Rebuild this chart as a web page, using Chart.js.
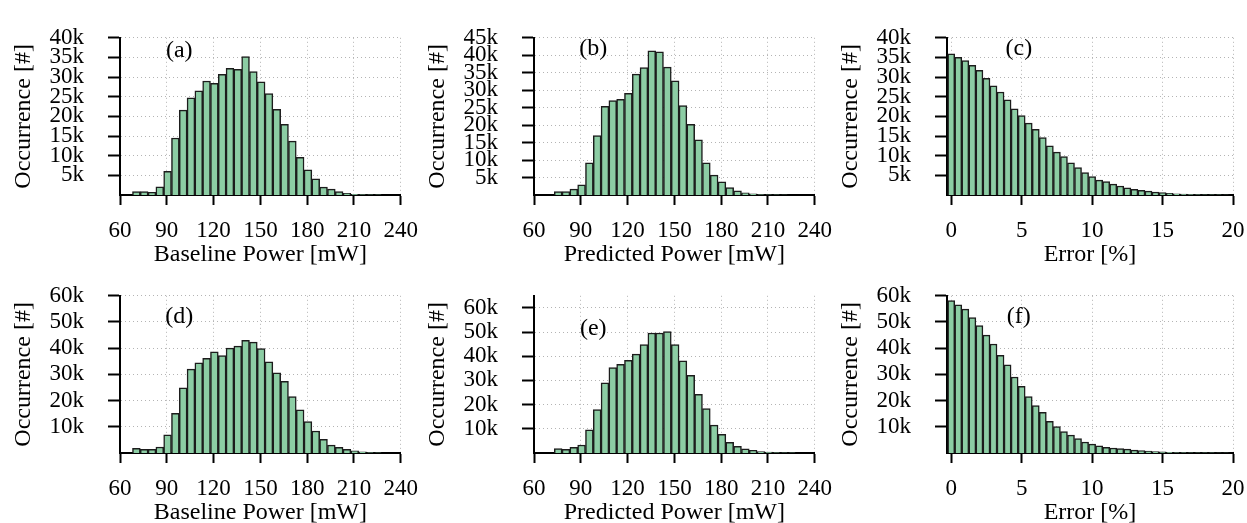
<!DOCTYPE html>
<html>
<head>
<meta charset="utf-8">
<title>Power histograms</title>
<script src="https://cdn.jsdelivr.net/npm/chart.js@4.4.0/dist/chart.umd.min.js"></script>
<style>
  html, body { margin: 0; padding: 0; background: #fff; overflow: hidden; }
  #wrap { position: relative; width: 1247px; height: 523px; overflow: hidden; }
  #wrap canvas { position: absolute; }
</style>
</head>
<body>
<div id="wrap"></div>
<script>
// bin centres: 5 mW bins for power, 0.5 % bins for error
const powerBins = [70.5, 75.5, 80.5, 85.5, 90.5, 95.5, 100.5, 105.5, 110.5, 115.5, 120.5, 125.5,
    130.5, 135.5, 140.5, 145.5, 150.5, 155.5, 160.5, 165.5, 170.5, 175.5, 180.5, 185.5,
    190.5, 195.5, 200.5, 205.5, 210.5, 215.5, 220.5, 225.5];
const errorBins = [0, 0.5, 1, 1.5, 2, 2.5, 3, 3.5, 4, 4.5, 5, 5.5, 6, 6.5, 7, 7.5, 8, 8.5, 9, 9.5,
    10, 10.5, 11, 11.5, 12, 12.5, 13, 13.5, 14, 14.5, 15, 15.5, 16, 16.5, 17, 17.5, 18, 18.5, 19, 19.5];

// occurrences in thousands
const baselineTop = [0.9, 0.85, 0.7, 2.1, 6.0, 14.5, 21.6, 24.7, 26.5, 29.0, 28.4, 30.7,
    32.2, 32.0, 35.2, 31.4, 28.8, 25.8, 21.8, 18.0, 13.7, 9.6, 6.4, 4.1,
    2.0, 1.5, 0.85, 0.45, 0.2, 0.1, 0.05, 0.03];
const predictedTop = [null, 0.95, 0.95, 1.7, 2.9, 9.2, 17.0, 25.4, 27.0, 27.4, 29.1, 34.6,
    36.5, 41.3, 41.0, 36.6, 32.7, 25.6, 20.2, 15.8, 9.2, 5.7, 3.8, 2.1,
    1.2, 0.6, 0.35, 0.15, 0.08, 0.04, 0.02, null];
const errorTop = [35.9, 35.0, 34.2, 33.0, 31.7, 29.7, 27.8, 26.2, 24.2, 21.9, 20.2, 18.3, 16.7, 14.6,
    12.5, 10.9, 9.8, 8.2, 7.0, 5.7, 4.7, 3.8, 3.4, 2.75, 2.3, 1.85, 1.45, 1.2, 1.0, 0.75,
    0.6, 0.45, 0.3, 0.22, 0.15, 0.1, 0.05, 0.04, 0.03, 0.02];

const baselineBottom = [1.8, 1.4, 1.4, 2.3, 6.9, 15.1, 24.9, 32.0, 34.4, 36.1, 38.6, 37.2,
    40.0, 40.8, 43.0, 42.3, 39.9, 34.8, 30.6, 27.4, 21.5, 16.5, 12.0, 8.4,
    5.2, 3.0, 2.2, 1.4, 0.8, 0.45, 0.2, 0.1];
const predictedBottom = [null, 1.85, 1.5, 2.35, 3.3, 9.6, 18.0, 29.0, 35.3, 36.7, 38.3, 40.9,
    44.8, 49.6, 49.6, 50.2, 44.8, 38.1, 32.1, 24.3, 18.4, 11.5, 7.7, 4.4,
    2.8, 1.7, 1.1, 0.6, 0.35, 0.2, 0.1, 0.05];
const errorBottom = [58.2, 56.6, 54.9, 51.7, 48.6, 45.0, 41.6, 37.3, 33.7, 29.0, 25.4, 21.5, 18.1, 15.5,
    12.1, 10.1, 8.2, 6.8, 5.5, 4.2, 3.4, 2.7, 2.2, 1.9, 1.7, 1.5, 1.1, 0.9, 0.7, 0.55,
    0.4, 0.3, 0.2, 0.15, 0.1, 0.08, 0.05, 0.04, 0.03, 0.02];

// axis ticks
const powerTicks = [60, 90, 120, 150, 180, 210, 240];
const errorTicks = [0, 5, 10, 15, 20];
const yTicks40 = [5, 10, 15, 20, 25, 30, 35, 40];
const yTicks45 = [5, 10, 15, 20, 25, 30, 35, 40, 45];
const yTicks60 = [10, 20, 30, 40, 50, 60];

const FONT = '"Liberation Serif", "Times New Roman", serif';
const FILL = '#8ccda4';
const EDGE = '#1c1c1c';
const GRID = '#b4b4b4';
const Y_AXIS_W = 120;
const X_AXIS_H = 74;
const PAD_RIGHT = 25;
const CANVAS_H = 269;

// draws the (a)...(f) tag at a data position
const panelTag = {
    id: 'panelTag',
    afterDraw(chart, args, opts) {
        const { ctx, scales: { x, y } } = chart;
        ctx.save();
        ctx.font = '24px ' + FONT;
        ctx.fillStyle = '#000';
        ctx.textAlign = 'center';
        ctx.textBaseline = 'middle';
        ctx.fillText(opts.text, x.getPixelForValue(opts.x), y.getPixelForValue(opts.y));
        ctx.restore();
    }
};

const panels = [
    { tag: '(a)', tagX: 98, tagY: 36.8, left: 0, top: 0, padTop: 20.7, plotW: 285,
      bins: powerBins, values: baselineTop, xMin: 60, xMax: 240, xTicks: powerTicks,
      yMax: 40, yTicks: yTicks40, xTitle: 'Baseline Power [mW]' },
    { tag: '(b)', tagX: 98, tagY: 42, left: 414, top: 0, padTop: 20, plotW: 285,
      bins: powerBins, values: predictedTop, xMin: 60, xMax: 240, xTicks: powerTicks,
      yMax: 45, yTicks: yTicks45, xTitle: 'Predicted Power [mW]' },
    { tag: '(c)', tagX: 4.8, tagY: 37.1, left: 827, top: 0, padTop: 20.7, plotW: 286,
      bins: errorBins, values: errorTop, xMin: -0.3, xMax: 20, xTicks: errorTicks,
      yMax: 40, yTicks: yTicks40, xTitle: 'Error [%]' },
    { tag: '(d)', tagX: 98, tagY: 52.1, left: 0, top: 258, padTop: 20.7, plotW: 285,
      bins: powerBins, values: baselineBottom, xMin: 60, xMax: 240, xTicks: powerTicks,
      yMax: 60, yTicks: yTicks60, xTitle: 'Baseline Power [mW]' },
    { tag: '(e)', tagX: 98, tagY: 51.5, left: 414, top: 258, padTop: 20.3, plotW: 285,
      bins: powerBins, values: predictedBottom, xMin: 60, xMax: 240, xTicks: powerTicks,
      yMax: 65, yTicks: yTicks60, xTitle: 'Predicted Power [mW]' },
    { tag: '(f)', tagX: 4.8, tagY: 52.1, left: 827, top: 258, padTop: 20.7, plotW: 286,
      bins: errorBins, values: errorBottom, xMin: -0.3, xMax: 20, xTicks: errorTicks,
      yMax: 60, yTicks: yTicks60, xTitle: 'Error [%]' }
];

const wrap = document.getElementById('wrap');

function makePanel(p) {
    const canvas = document.createElement('canvas');
    canvas.width = Y_AXIS_W + p.plotW + PAD_RIGHT;
    canvas.height = CANVAS_H;
    canvas.style.left = p.left + 'px';
    canvas.style.top = p.top + 'px';
    wrap.appendChild(canvas);

    return new Chart(canvas, {
        type: 'bar',
        data: {
            datasets: [{
                data: p.bins.map((x, i) => ({ x: x, y: p.values[i] })),
                backgroundColor: FILL,
                borderColor: EDGE,
                borderWidth: 1.5,
                barPercentage: 1,
                categoryPercentage: 1
            }]
        },
        options: {
            responsive: false,
            animation: false,
            events: [],
            layout: { padding: { top: p.padTop, right: PAD_RIGHT, left: 0, bottom: 0 } },
            plugins: {
                legend: { display: false },
                tooltip: { enabled: false },
                panelTag: { text: p.tag, x: p.tagX, y: p.tagY }
            },
            scales: {
                x: {
                    type: 'linear',
                    min: p.xMin,
                    max: p.xMax,
                    offset: false,
                    afterBuildTicks: s => { s.ticks = p.xTicks.map(v => ({ value: v })); },
                    afterFit: s => { s.height = X_AXIS_H; },
                    grid: { color: GRID, offset: false, tickLength: 10, tickColor: '#000', tickWidth: 2 },
                    border: { color: '#000', width: 2, dash: [1, 3] },
                    ticks: { color: '#000', font: { family: FONT, size: 23 }, padding: 12,
                             maxRotation: 0, autoSkip: false },
                    title: { display: true, text: p.xTitle, color: '#000',
                             font: { family: FONT, size: 24 }, padding: { top: 0, bottom: 0 } }
                },
                y: {
                    min: 0,
                    max: p.yMax,
                    afterBuildTicks: s => { s.ticks = p.yTicks.map(v => ({ value: v })); },
                    afterFit: s => { s.width = Y_AXIS_W; },
                    grid: { color: GRID, tickLength: 12, tickColor: '#000', tickWidth: 2 },
                    border: { color: '#000', width: 2, dash: [1, 3] },
                    ticks: { color: '#000', font: { family: FONT, size: 23 }, padding: 24,
                             autoSkip: false, callback: v => v + 'k' },
                    title: { display: true, text: 'Occurrence [#]', color: '#000',
                             font: { family: FONT, size: 24 }, padding: { top: 9, bottom: 0 } }
                }
            }
        },
        plugins: [panelTag]
    });
}

panels.forEach(makePanel);
</script>
</body>
</html>
